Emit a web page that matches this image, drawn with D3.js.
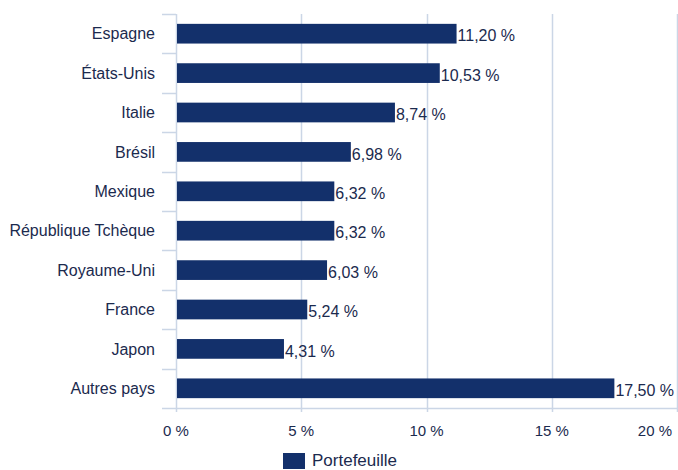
<!DOCTYPE html>
<html>
<head>
<meta charset="utf-8">
<title>Portefeuille</title>
<style>
body { margin: 0; background: #fff; }
svg text { font-family: "Liberation Sans", Arial, sans-serif; fill: #1b2a4e; }
</style>
<script src="https://d3js.org/d3.v7.min.js"></script>
</head>
<body>
<script>
var countries = ["Espagne", "États-Unis", "Italie", "Brésil", "Mexique",
                 "République Tchèque", "Royaume-Uni", "France", "Japon", "Autres pays"];
var weights = [11.20, 10.53, 8.74, 6.98, 6.32, 6.32, 6.03, 5.24, 4.31, 17.50];
var xTicks = [0, 5, 10, 15, 20];
var seriesName = "Portefeuille";

var barColor = "#13306b",
    gridColor = "#cbd6e6";

// plot area (note: "top" is reserved on window, so use y0/y1)
var x0 = 176, x1 = 677, y0 = 14, y1 = 408;

var svg = d3.select("body").append("svg")
    .attr("width", 678)
    .attr("height", 470);

var x = d3.scaleLinear().domain([0, 20]).range([x0, x1]);
var y = d3.scaleBand().domain(countries).range([y0, y1]).paddingInner(0.5).paddingOuter(0.25);

var fmt = function(v) { return v.toFixed(2).replace(".", ",") + " %"; };

// vertical gridlines
svg.selectAll("line.grid")
    .data(xTicks.filter(function(d) { return d > 0; }))
    .enter().append("line")
    .attr("class", "grid")
    .attr("x1", function(d) { return Math.round(x(d)) + 0.5; })
    .attr("x2", function(d) { return Math.round(x(d)) + 0.5; })
    .attr("y1", y0)
    .attr("y2", y1 + 4)
    .attr("stroke", gridColor)
    .attr("stroke-width", 1.5);

// category ticks on the left
var step = (y1 - y0) / countries.length;
svg.selectAll("line.ytick")
    .data(d3.range(countries.length))
    .enter().append("line")
    .attr("class", "ytick")
    .attr("x1", x0 - 14)
    .attr("x2", x0)
    .attr("y1", function(i) { return Math.round(y0 + i * step) + 0.5; })
    .attr("y2", function(i) { return Math.round(y0 + i * step) + 0.5; })
    .attr("stroke", gridColor)
    .attr("stroke-width", 1.5);

// bottom line
svg.append("line")
    .attr("x1", x0 - 14).attr("x2", 678)
    .attr("y1", y1 + 0.5).attr("y2", y1 + 0.5)
    .attr("stroke", gridColor)
    .attr("stroke-width", 1.5);

// y axis line
svg.append("line")
    .attr("x1", x0 + 0.5).attr("x2", x0 + 0.5)
    .attr("y1", y0).attr("y2", y1 + 4)
    .attr("stroke", gridColor)
    .attr("stroke-width", 1.5);

// bars
svg.selectAll("rect.bar")
    .data(weights)
    .enter().append("rect")
    .attr("class", "bar")
    .attr("x", x(0) + 1)
    .attr("y", function(d, i) { return y(countries[i]); })
    .attr("width", function(d) { return x(d) - x(0) - 1; })
    .attr("height", y.bandwidth())
    .attr("fill", barColor);

// value labels
svg.selectAll("text.val")
    .data(weights)
    .enter().append("text")
    .attr("class", "val")
    .attr("x", function(d) { return x(d) + 1; })
    .attr("y", function(d, i) { return y(countries[i]) + y.bandwidth() / 2 + 2; })
    .attr("dy", "0.35em")
    .attr("font-size", "16px")
    .text(fmt);

// category labels
svg.selectAll("text.cat")
    .data(countries)
    .enter().append("text")
    .attr("class", "cat")
    .attr("x", x0 - 21)
    .attr("y", function(d) { return y(d) + y.bandwidth() / 2; })
    .attr("dy", "0.35em")
    .attr("text-anchor", "end")
    .attr("font-size", "16px")
    .text(function(d) { return d; });

// x tick labels
svg.selectAll("text.xt")
    .data(xTicks)
    .enter().append("text")
    .attr("class", "xt")
    .attr("x", function(d) { return d === 20 ? x1 - 5 : x(d); })
    .attr("y", 436)
    .attr("text-anchor", function(d) { return d === 20 ? "end" : "middle"; })
    .attr("font-size", "15px")
    .text(function(d) { return d + " %"; });

// legend
svg.append("rect")
    .attr("x", 283).attr("y", 453)
    .attr("width", 22).attr("height", 16)
    .attr("fill", barColor);
svg.append("text")
    .attr("x", 312).attr("y", 466)
    .attr("font-size", "17px")
    .text(seriesName);
</script>
</body>
</html>
